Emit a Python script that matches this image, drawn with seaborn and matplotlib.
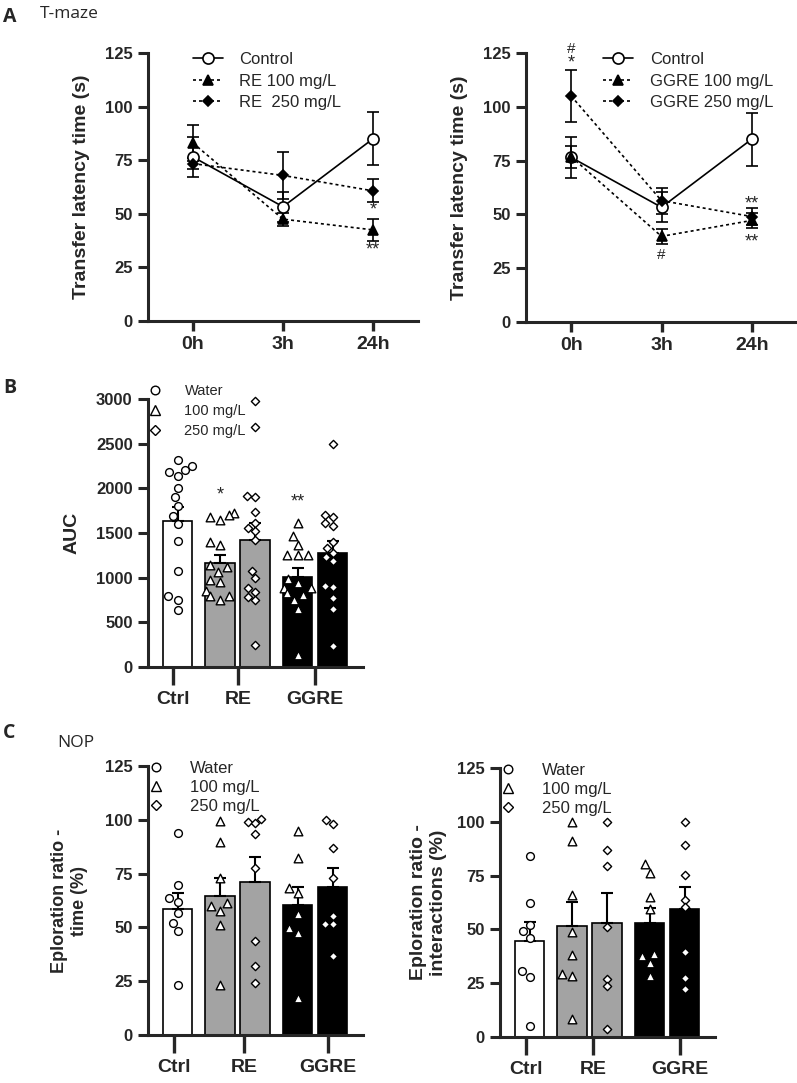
import numpy as np
import pandas as pd
import seaborn as sns
import matplotlib.pyplot as plt
from matplotlib.lines import Line2D

sns.set_style('ticks')
plt.rcParams['font.family'] = ['Liberation Sans', 'DejaVu Sans']

# ---- A: T-maze transfer latency (mean, SEM) at 0h / 3h / 24h
times = ['0h', '3h', '24h']
ctrl_lat = [76.5, 53.3, 85.0]
ctrl_lat_sem = [9.5, 7.0, 12.3]
re100_lat = [83.0, 47.5, 42.5]
re100_lat_sem = [8.2, 3.0, 5.2]
re250_lat = [73.4, 67.9, 60.7]
re250_lat_sem = [2.6, 11.0, 5.3]
ggre100_lat = [76.8, 39.8, 47.2]
ggre100_lat_sem = [5.2, 3.5, 3.4]
ggre250_lat = [105.0, 56.4, 49.0]
ggre250_lat_sem = [12.0, 6.0, 4.0]

# ---- B: AUC, individual animals + mean/SEM
auc_ctrl = [2320, 2245, 2210, 2180, 2140, 2005, 1900, 1800, 1690, 1600, 1405, 1070, 790, 755, 640]
auc_re100 = [1720, 1700, 1680, 1645, 1400, 1365, 1140, 1120, 1065, 975, 955, 855, 800, 795, 750]
auc_re250 = [2975, 2685, 1910, 1900, 1740, 1610, 1555, 1525, 1425, 1070, 995, 885, 845, 780, 745, 245]
auc_ggre100 = [1610, 1465, 1365, 1255, 1250, 1250, 980, 935, 880, 880, 830, 805, 750, 645, 135]
auc_ggre250 = [2495, 1700, 1680, 1610, 1580, 1400, 1330, 1280, 1235, 1190, 905, 890, 770, 645, 235]
auc_mean = [1638, 1164, 1425, 1007, 1276]
auc_sem = [149, 93, 187, 101, 130]

# ---- C: NOP exploration ratio - time (%)
nop_time_ctrl = [94.0, 69.7, 63.5, 61.6, 56.8, 52.2, 48.5, 23.2]
nop_time_re100 = [99.6, 89.8, 73.1, 61.2, 59.9, 57.6, 51.1, 23.2]
nop_time_re250 = [100.2, 99.1, 98.4, 93.2, 77.8, 43.7, 32.1, 24.0]
nop_time_ggre100 = [95.0, 82.1, 68.2, 65.8, 56.2, 49.9, 47.2, 17.0]
nop_time_ggre250 = [99.9, 97.9, 87.0, 72.8, 55.3, 51.4, 51.4, 36.9]
nop_time_mean = [58.5, 64.6, 70.9, 60.4, 68.9]
nop_time_sem = [7.3, 8.5, 11.7, 8.5, 8.5]

# ---- C: NOP exploration ratio - interactions (%)
nop_int_ctrl = [84.1, 62.4, 52.2, 49.1, 46.0, 30.5, 27.9, 5.1]
nop_int_re100 = [99.9, 91.1, 65.8, 48.8, 37.9, 29.1, 28.2, 8.5]
nop_int_re250 = [99.9, 86.7, 79.3, 51.1, 27.1, 23.5, 3.6]
nop_int_ggre100 = [80.5, 76.4, 65.1, 59.6, 38.7, 37.6, 34.5, 28.3]
nop_int_ggre250 = [99.9, 89.4, 75.1, 63.8, 60.4, 39.5, 27.6, 22.5]
nop_int_mean = [44.6, 51.6, 53.1, 53.0, 59.6]
nop_int_sem = [8.8, 11.1, 14.0, 6.9, 10.1]

groups = ['Ctrl', 'RE', 'GGRE']
dose_labels = ['Water', '100 mg/L', '250 mg/L']

# layout / style
W, H = 797, 1083
bar_pos = [0, 1.214, 2.214, 3.429, 4.429]
bar_colors = ['white', '#a3a3a3', '#a3a3a3', 'black', 'black']
bar_markers = ['o', '^', 'D', '^', 'D']
marker_sizes = {'o': 5.6, '^': 6.2, 'D': 4.2}
dots = (0, (1.8, 1.8))

fig = plt.figure(figsize=(W / 100, H / 100), dpi=100)


def add_ax(left, top, right, bottom):
    return fig.add_axes([left / W, 1 - bottom / H, (right - left) / W, (bottom - top) / H])


def style_axes(ax, xlen, xsize=14):
    sns.despine(ax=ax)
    for s in ['left', 'bottom']:
        ax.spines[s].set_linewidth(2.2)
    ax.tick_params(axis='y', length=7, width=2.2, labelsize=12, pad=4)
    ax.tick_params(axis='x', length=xlen, width=2.4, labelsize=xsize, pad=4)
    for lbl in ax.get_xticklabels() + ax.get_yticklabels():
        lbl.set_fontweight('bold')


def latency_panel(ax, series, leg_x, label_x):
    xt = [0, 1, 2]
    for label, vals, sems, marker, ms, mfc, ls in series:
        ax.errorbar(xt, vals, yerr=sems, fmt='none', ecolor='black', elinewidth=1.2,
                    capsize=4, capthick=1.2, zorder=2)
        sns.lineplot(x=xt, y=vals, ax=ax, color='black', linewidth=1.2, linestyle=ls,
                     marker=marker, markersize=ms, markerfacecolor=mfc,
                     markeredgecolor='black', markeredgewidth=1.2, label=label, zorder=3)
    ax.set_xlim(-0.5, 2.5)
    ax.set_ylim(0, 125)
    ax.set_yticks([0, 25, 50, 75, 100, 125])
    ax.set_xticks(xt, labels=times)
    ax.set_xlabel('')
    ax.set_ylabel('Transfer latency time (s)', fontsize=14, fontweight='bold')
    ax.yaxis.set_label_coords(label_x, 0.5)
    ax.legend(loc='upper left', bbox_to_anchor=(leg_x, 1.003), frameon=False, fontsize=12,
              handlelength=1.8, handletextpad=1.0, labelspacing=0.38, borderpad=0,
              borderaxespad=0)
    style_axes(ax, 7)


def bar_panel(ax, point_sets, means, sems, ylim, yticks, ylabel, label_x, tick_pos,
              leg_y, leg_size, leg_space, ylabel_size=13):
    df = pd.DataFrame({'pos': bar_pos, 'mean': means})
    sns.barplot(data=df, x='pos', y='mean', native_scale=True, width=0.83, errorbar=None,
                color='white', edgecolor='black', linewidth=1.2, ax=ax)
    for patch, c in zip(ax.patches, bar_colors):
        patch.set_facecolor(c)
    ax.errorbar(bar_pos, means, yerr=[np.zeros(len(means)), sems], fmt='none',
                ecolor='black', elinewidth=1.5, capsize=4.5, capthick=1.5, zorder=3)
    for p, vals, m in zip(bar_pos, point_sets, bar_markers):
        sns.swarmplot(x=[p] * len(vals), y=vals, native_scale=True, marker=m,
                      size=marker_sizes[m], color='white', edgecolor='black',
                      linewidth=1.0, ax=ax, zorder=4, clip_on=False)
    ax.set_xlim(-0.843, 5.3)
    ax.set_ylim(*ylim)
    ax.set_yticks(yticks)
    ax.set_xticks(tick_pos, labels=groups)
    ax.set_xlabel('')
    ax.set_ylabel(ylabel, fontsize=ylabel_size, fontweight='bold')
    ax.yaxis.set_label_coords(label_x, 0.5)
    handles = [Line2D([], [], marker=m, ls='none', mfc='white', mec='black', mew=1.0,
                      ms=marker_sizes[m] + 0.6) for m in ['o', '^', 'D']]
    ax.legend(handles, dose_labels, loc='upper left', bbox_to_anchor=(0.0, leg_y),
              frameon=False, fontsize=leg_size, handlelength=1.0, handletextpad=1.5,
              labelspacing=leg_space, borderpad=0, borderaxespad=0)
    style_axes(ax, 13)


# ---- panel A
axA1 = add_ax(148, 53, 418, 321)
latency_panel(axA1, [
    ('Control', ctrl_lat, ctrl_lat_sem, 'o', 8, 'white', '-'),
    ('RE 100 mg/L', re100_lat, re100_lat_sem, '^', 7, 'black', dots),
    ('RE  250 mg/L', re250_lat, re250_lat_sem, 'D', 5, 'black', dots),
], 0.165, -0.215)
axA1.text(2, 52, '*', ha='center', va='center', fontsize=13)
axA1.text(2, 33, '**', ha='center', va='center', fontsize=13)

axA2 = add_ax(526, 53, 797, 322)
latency_panel(axA2, [
    ('Control', ctrl_lat, ctrl_lat_sem, 'o', 8, 'white', '-'),
    ('GGRE 100 mg/L', ggre100_lat, ggre100_lat_sem, '^', 7, 'black', dots),
    ('GGRE 250 mg/L', ggre250_lat, ggre250_lat_sem, 'D', 5, 'black', dots),
], 0.284, -0.214)
axA2.text(0, 127, '#', ha='center', va='center', fontsize=11)
axA2.text(0, 120.5, '*', ha='center', va='center', fontsize=13)
axA2.text(1, 31, '#', ha='center', va='center', fontsize=11)
axA2.text(2, 55, '**', ha='center', va='center', fontsize=13)
axA2.text(2, 37, '**', ha='center', va='center', fontsize=13)

# ---- panel B
axB = add_ax(148, 399, 363, 667)
bar_panel(axB, [auc_ctrl, auc_re100, auc_re250, auc_ggre100, auc_ggre250],
          auc_mean, auc_sem, (0, 3000), range(0, 3001, 500), 'AUC', -0.316,
          [-0.13, 1.73, 3.93], 1.055, 10.5, 0.4, ylabel_size=14)
axB.text(bar_pos[1], 1930, '*', ha='center', va='center', fontsize=13)
axB.text(bar_pos[3], 1850, '**', ha='center', va='center', fontsize=13)

# ---- panel C
axC1 = add_ax(148, 766, 363, 1035)
bar_panel(axC1, [nop_time_ctrl, nop_time_re100, nop_time_re250, nop_time_ggre100,
                 nop_time_ggre250],
          nop_time_mean, nop_time_sem, (0, 125), [0, 25, 50, 75, 100, 125],
          'Eploration ratio -\ntime (%)', -0.279, [-0.1, 1.9, 4.3], 1.02, 12, 0.25)

axC2 = add_ax(500, 768, 715, 1037)
bar_panel(axC2, [nop_int_ctrl, nop_int_re100, nop_int_re250, nop_int_ggre100,
                 nop_int_ggre250],
          nop_int_mean, nop_int_sem, (0, 125), [0, 25, 50, 75, 100, 125],
          'Eploration ratio -\ninteractions (%)', -0.247, [-0.09, 1.82, 4.29], 1.02, 12,
          0.25, ylabel_size=14)

# ---- panel letters and titles
lab_font = ['Open Sans', 'DejaVu Sans']
fig.text(3 / W, 1 - 22 / H, 'A', fontsize=14, fontweight='bold', family=lab_font)
fig.text(40 / W, 1 - 18 / H, 'T-maze', fontsize=12.5, family=lab_font)
fig.text(3 / W, 1 - 393 / H, 'B', fontsize=14, fontweight='bold', family=lab_font)
fig.text(3 / W, 1 - 738 / H, 'C', fontsize=14, fontweight='bold', family=lab_font)
fig.text(57 / W, 1 - 747 / H, 'NOP', fontsize=12.5, family=lab_font)

fig.savefig('out.png', dpi=100)
